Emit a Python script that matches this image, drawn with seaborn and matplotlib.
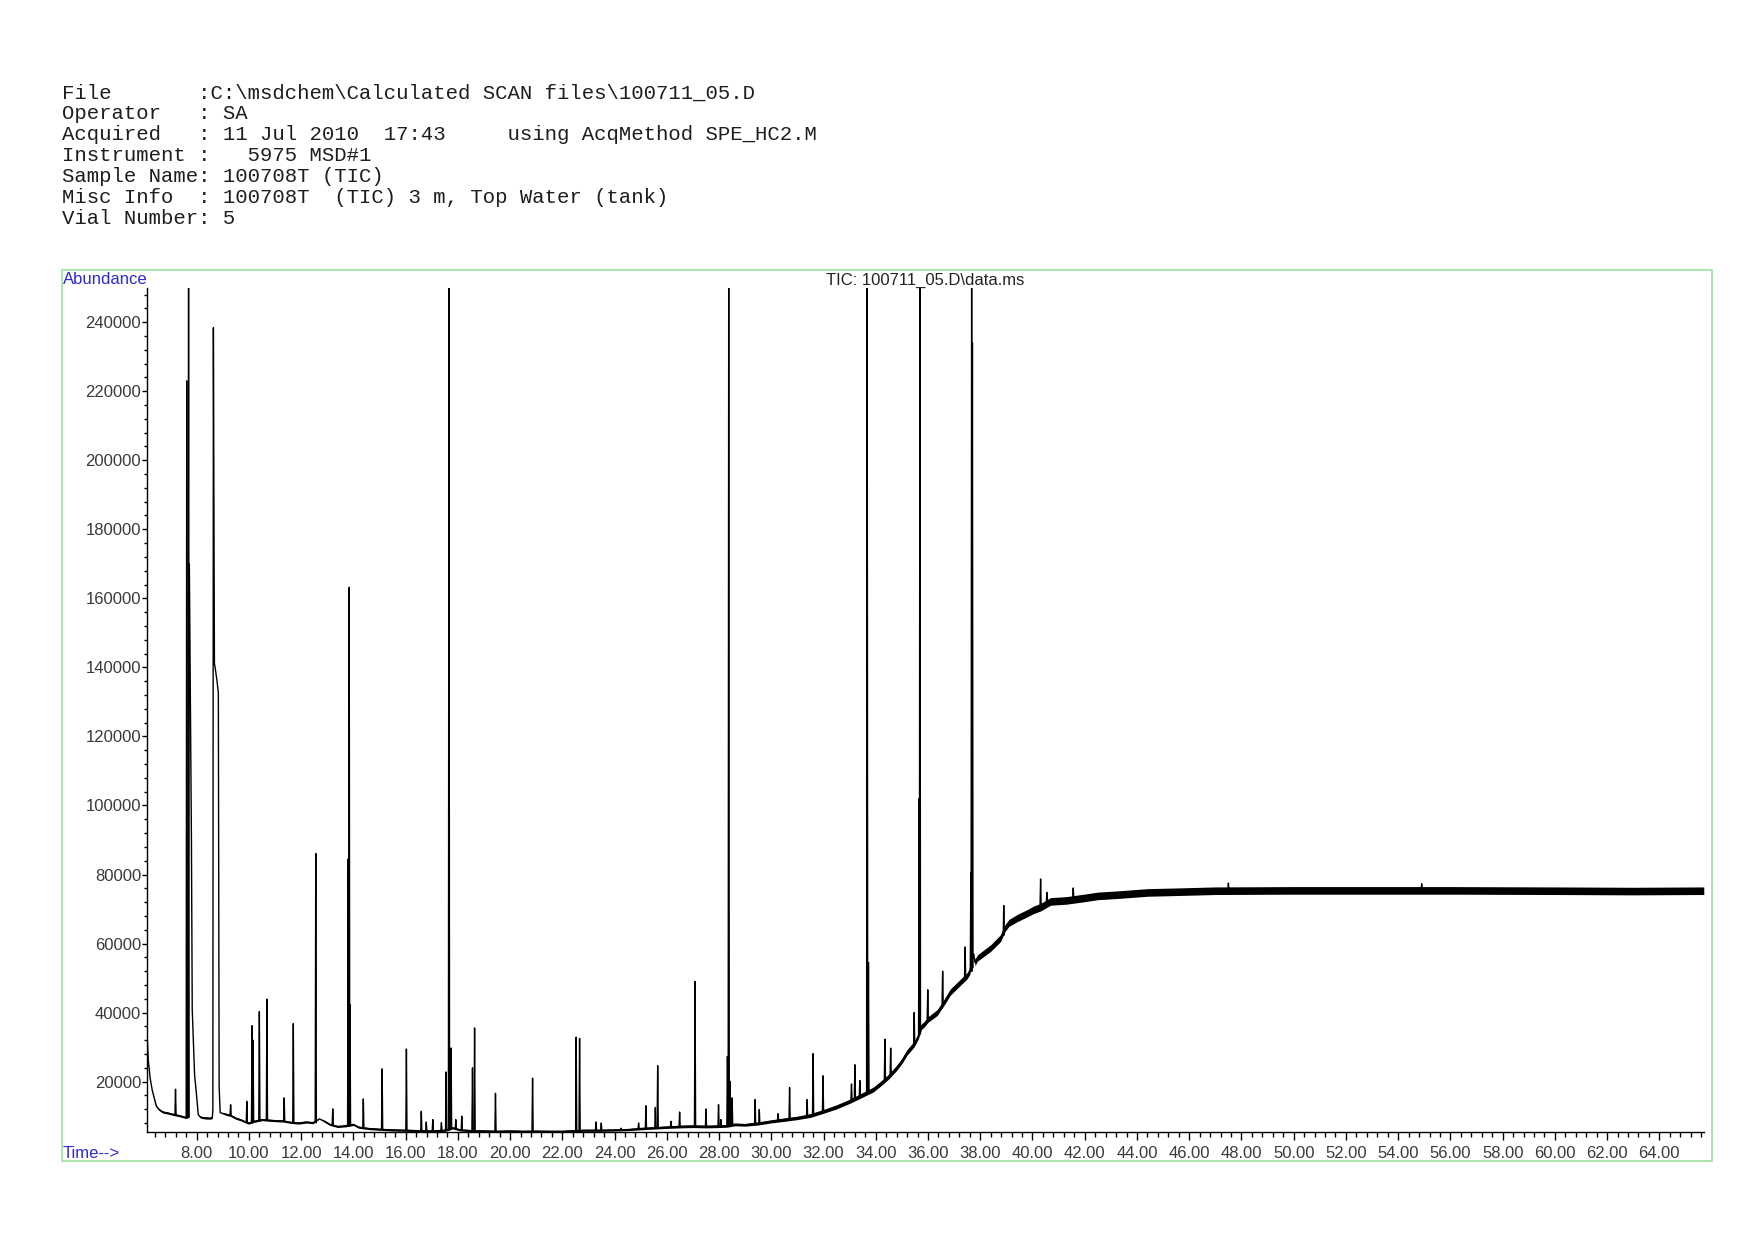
import numpy as np
import pandas as pd
import matplotlib
matplotlib.use("Agg")
import matplotlib.pyplot as plt
import seaborn as sns
from matplotlib.ticker import MultipleLocator, FuncFormatter
from matplotlib.patches import Rectangle

# ---------------- header text ----------------
header_lines = [
    "File       :C:\\msdchem\\Calculated SCAN files\\100711_05.D",
    "Operator   : SA",
    "Acquired   : 11 Jul 2010  17:43     using AcqMethod SPE_HC2.M",
    "Instrument :   5975 MSD#1",
    "Sample Name: 100708T (TIC)",
    "Misc Info  : 100708T  (TIC) 3 m, Top Water (tank)",
    "Vial Number: 5",
]
plot_title = "TIC: 100711_05.D\\data.ms"
y_label = "Abundance"
x_label = "Time-->"

# ---------------- baseline / broad features (time min, abundance) ----------------
baseline_t = [6.11, 6.15, 6.22, 6.30, 6.40, 6.45, 6.55, 6.70, 6.90, 7.10, 7.30, 7.50, 7.60, 7.66,
              7.72, 7.80, 7.83, 7.92, 8.00, 8.06, 8.15, 8.30, 8.50, 8.60, 8.62, 8.64, 8.68, 8.70,
              8.78, 8.83, 8.86, 8.90, 9.10, 9.30, 9.50, 9.70, 9.90, 10.00, 10.20, 10.50, 10.80,
              11.00, 11.30, 11.60, 11.90, 12.20, 12.45, 12.70, 12.90, 13.10, 13.40, 13.70, 14.00,
              14.20, 14.60, 15.00, 15.50, 16.00, 16.50, 17.00, 17.50, 17.80, 18.10, 18.50, 19.00,
              19.50, 20.00, 20.50, 21.00, 21.50, 22.00, 22.50, 22.80, 23.50, 24.00, 24.50, 25.00,
              25.50, 26.00, 26.50, 27.00, 27.50, 28.00, 28.30, 28.60, 29.00, 29.50, 30.00, 30.50,
              31.00, 31.50, 32.00, 32.50, 33.00, 33.40, 33.90, 34.20, 34.50, 34.80, 35.00, 35.20,
              35.46, 35.62, 35.75, 35.84, 36.00, 36.35, 36.60, 36.86, 37.20, 37.50, 37.60, 37.75,
              37.80, 37.89, 38.10, 38.40, 38.78, 38.95, 39.10, 39.42, 39.80, 40.05, 40.30, 40.69,
              41.30, 41.97, 42.50, 43.25, 44.40, 45.50, 47.00, 50.00, 53.00, 56.00, 60.00, 63.00,
              65.70]
baseline_a = [32500, 26000, 21000, 17500, 14500, 13000, 12000, 11200, 10900, 10500, 10200, 9800, 9600, 9600,
              170000, 90000, 41000, 22000, 15700, 10400, 9700, 9500, 9400, 9600, 12000, 238400, 141000, 140300,
              136000, 132600, 18600, 11000, 10600, 10200, 9400, 8900, 8200, 8000, 8500, 9000, 8800,
              8700, 8600, 8200, 8000, 8300, 8100, 9200, 8500, 7600, 7000, 7200, 7600,
              6800, 6400, 6200, 6000, 5900, 5800, 5700, 5900, 6600, 6000, 5800, 5700,
              5600, 5700, 5600, 5650, 5600, 5600, 5800, 5900, 5900, 6000, 6100, 6400,
              6600, 6800, 7000, 7100, 7000, 7100, 7200, 7600, 7500, 7900, 8500, 9000,
              9500, 10200, 11400, 12700, 14300, 15800, 17700, 19500, 21500, 24000, 26000, 28500,
              30800, 33000, 36000, 36500, 38000, 40000, 42800, 46000, 48500, 50700, 52000, 57000,
              54500, 55800, 57000, 58700, 61600, 64500, 66000, 67400, 68800, 69800, 70500, 72200,
              72500, 73200, 73800, 74150, 74800, 75000, 75300, 75400, 75400, 75400, 75300, 75200,
              75300]
# visible noise half-band of the trace at each baseline point
baseline_noise = [0, 0, 0, 0, 200, 250, 300, 300, 300, 300, 300, 300, 300, 0,
                  0, 0, 0, 0, 0, 0, 300, 300, 300, 300, 0, 0, 0, 0,
                  0, 0, 0, 0, 300, 300, 300, 300, 300, 300, 300, 300, 300,
                  300, 300, 300, 300, 300, 300, 0, 300, 300, 300, 300, 300,
                  300, 300, 300, 300, 300, 300, 300, 300, 300, 300, 300, 300,
                  300, 300, 300, 300, 300, 300, 300, 300, 300, 300, 300, 350,
                  350, 350, 400, 400, 400, 400, 400, 400, 400, 450, 450, 500,
                  500, 550, 550, 600, 600, 650, 700, 700, 700, 750, 750, 800,
                  800, 800, 800, 800, 800, 850, 850, 900, 900, 900, 900, 0,
                  900, 900, 950, 950, 1000, 1000, 1000, 1050, 1050, 1100, 1100, 1100,
                  1100, 1100, 1100, 1100, 1100, 1100, 1100, 1100, 1100, 1100, 1100, 1100,
                  1100]

# ---------------- sharp peaks: retention time, foot level, apex ----------------
# apex 260000 = off scale (clipped at top of the plot)
peak_rt = [7.19, 7.62, 7.69, 9.30, 9.92, 10.12, 10.16, 10.40, 10.69, 11.35, 11.70, 12.56, 13.21,
           13.80, 13.84, 13.87, 14.38, 15.10, 16.03, 16.60, 16.79, 17.04, 17.37, 17.55, 17.66,
           17.74, 17.92, 18.15, 18.56, 18.64, 19.44, 20.86,
           22.53, 22.66, 23.29, 23.49, 24.25, 24.92, 25.20, 25.56, 25.65, 26.16, 26.49, 27.08,
           27.50, 27.98, 28.07, 28.32, 28.37, 28.42, 28.50, 29.38, 29.54, 30.26, 30.70, 31.37,
           31.60, 31.98, 33.07, 33.20, 33.39, 33.67, 33.72, 34.35, 34.57, 35.47, 35.57, 35.66,
           35.69, 35.99, 36.56, 37.42, 37.64, 37.67, 37.70, 38.90, 40.31, 40.55, 41.56,
           47.50, 54.90]
peak_base = [10300, 9600, 9600, 10200, 8200, 8100, 8300, 8600, 9000, 8600, 8200, 8100, 7600,
             7100, 7200, 7300, 6800, 6200, 5900, 5800, 5800, 5700, 5800, 5900, 5900,
             6400, 6200, 5900, 5800, 5800, 5600, 5600,
             5800, 5800, 5900, 5900, 6000, 6300, 6400, 6600, 6600, 6800, 7000, 7100,
             7000, 7100, 7100, 7200, 7200, 7400, 7600, 7600, 7900, 8800, 9100, 10000,
             10500, 11300, 14500, 15000, 15700, 16500, 17000, 20500, 22000, 30800, 32000, 33500,
             34000, 38000, 42500, 50000, 52000, 52000, 53000, 62500, 70500, 71500, 72800,
             75300, 75400]
peak_top = [17800, 223000, 260000, 13300, 14300, 36200, 32000, 40300, 43900, 15300, 36800, 86100, 12100,
            84500, 163200, 42300, 15000, 23700, 29450, 11400, 8300, 9000, 8100, 22800, 260000,
            29750, 9000, 10000, 24000, 35550, 16600, 21000,
            32900, 32500, 8300, 8000, 6500, 8000, 13000, 12500, 24600, 8500, 11200, 49000,
            12100, 13300, 9000, 27300, 260000, 20100, 15300, 14800, 11900, 10700, 18300, 14800,
            28100, 21700, 19300, 24900, 20300, 260000, 54500, 32300, 29700, 40000, 32200, 102000,
            260000, 46600, 52000, 59000, 80600, 260000, 234000, 71000, 78700, 74800, 76100,
            77500, 77300]

# ---------------- styling ----------------
sns.set_style("ticks")
plt.rcParams['font.family'] = ['Liberation Sans', 'DejaVu Sans']

W, H = 1754, 1240
fig = plt.figure(figsize=(W / 100, H / 100), dpi=100)
fig.patch.set_facecolor("white")

ax_left, ax_right, ax_top, ax_bot = 147.3, 1704.3, 288.3, 1131.7
ax = fig.add_axes([ax_left / W, 1 - ax_bot / H, (ax_right - ax_left) / W, (ax_bot - ax_top) / H])
ax.set_facecolor("white")

HW = 0.022  # half-width of a sharp peak, minutes

base_df = pd.DataFrame({"t": baseline_t, "a": baseline_a})
rows = []
for i, (rt, b, top) in enumerate(zip(peak_rt, peak_base, peak_top)):
    rows += [(i, rt - HW, b), (i, rt, top), (i, rt + HW, b)]
peak_df = pd.DataFrame(rows, columns=["pk", "t", "a"])

bt = np.array(baseline_t)
ba = np.array(baseline_a)
bn = np.array(baseline_noise)
ax.fill_between(bt, ba - bn, ba + bn, color="black", alpha=1.0, lw=0)
sns.lineplot(data=base_df, x="t", y="a", color="black", lw=1.0, estimator=None, sort=False, ax=ax)
sns.lineplot(data=peak_df, x="t", y="a", units="pk", estimator=None, sort=False,
             color="black", lw=1.0, ax=ax)

ax.set_xlim(6.11, 65.72)
ax.set_ylim(5500, 249800)
ax.set_xlabel("")
ax.set_ylabel("")
for s in ["top", "right"]:
    ax.spines[s].set_visible(False)
for s in ["left", "bottom"]:
    ax.spines[s].set_color("black")
    ax.spines[s].set_linewidth(1.0)

ax.xaxis.set_major_locator(MultipleLocator(2))
ax.xaxis.set_minor_locator(MultipleLocator(0.4))
ax.yaxis.set_major_locator(MultipleLocator(20000))
ax.yaxis.set_minor_locator(MultipleLocator(4000))
ax.xaxis.set_major_formatter(FuncFormatter(lambda v, p: f"{v:.2f}"))
ax.yaxis.set_major_formatter(FuncFormatter(lambda v, p: f"{int(round(v))}"))

lab_col = "#3a3a3a"
ax.tick_params(axis="x", which="major", direction="out", length=6, width=1, color="black",
               labelsize=12, labelcolor=lab_col, pad=4.5)
ax.tick_params(axis="x", which="minor", direction="out", length=3.3, width=1, color="black")
ax.tick_params(axis="y", which="major", direction="out", length=3.5, width=1, color="black",
               labelsize=12, labelcolor=lab_col, pad=1)
ax.tick_params(axis="y", which="minor", direction="out", length=2.2, width=1, color="black")

# green frame
frame = Rectangle((61.5 / W, 1 - 1161 / H), (1712.5 - 61.5) / W, (1161 - 269.5) / H,
                  transform=fig.transFigure, fill=False, edgecolor="#a6e3a6", lw=1.3)
fig.add_artist(frame)

blue = "#2b2bd0"
fig.text(62.5 / W, 1 - 272 / H, y_label, ha="left", va="top", color=blue, fontsize=12)
fig.text(62.5 / W, 1 - 1153 / H, x_label, ha="left", va="center", color=blue, fontsize=12)
fig.text(925 / W, 1 - 280 / H, plot_title, ha="center", va="center", color="#222222", fontsize=12)

for i, line in enumerate(header_lines):
    cy = 92.8 + i * 20.87
    fig.text(62.5 / W, 1 - cy / H, line, ha="left", va="center", color="#1e1e1e",
             fontsize=14.9, family=["Liberation Mono", "DejaVu Sans Mono"])

fig.savefig("out.png", dpi=100, facecolor="white")
